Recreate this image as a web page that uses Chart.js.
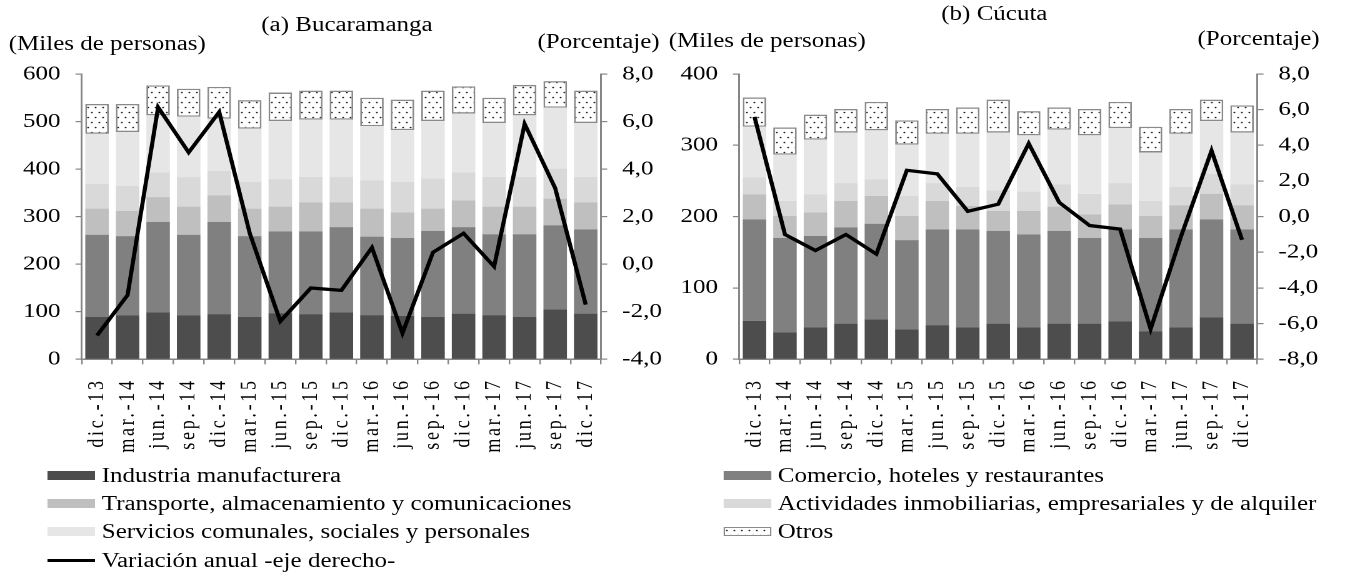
<!DOCTYPE html>
<html>
<head>
<meta charset="utf-8">
<script src="https://cdn.jsdelivr.net/npm/chart.js@4/dist/chart.umd.min.js"></script>
<style>
  html, body { margin: 0; padding: 0; background: #fff; }
  body { width: 1361px; height: 576px; overflow: hidden; position: relative; }
  /* el original está estirado en horizontal, se dibuja angosto y se escala */
  #stage {
    position: absolute; left: 0; top: 0;
    width: 1089px; height: 576px;
    transform: scaleX(1.25); transform-origin: 0 0;
    font-family: "Liberation Serif", "Times New Roman", serif;
    font-size: 20px; color: #000;
  }
  .txt { position: absolute; line-height: 24px; white-space: nowrap; }
  canvas { position: absolute; }
  .leg { position: absolute; display: flex; align-items: center; line-height: 24px; white-space: nowrap; }
  .sw { display: inline-block; margin-right: 5px; box-sizing: border-box; }
</style>
</head>
<body>
<div id="stage">
  <div class="txt" style="left:209px; top:12px;">(a) Bucaramanga</div>
  <div class="txt" style="left:7px; top:31px;">(Miles de personas)</div>
  <div class="txt" style="left:430px; top:29px;">(Porcentaje)</div>
  <div class="txt" style="left:753px; top:1px;">(b) Cúcuta</div>
  <div class="txt" style="left:535px; top:28px;">(Miles de personas)</div>
  <div class="txt" style="left:958px; top:26px;">(Porcentaje)</div>

  <canvas id="chart-a" width="540" height="410" style="left:0px; top:50px;"></canvas>
  <canvas id="chart-b" width="540" height="410" style="left:530px; top:50px;"></canvas>

  <div id="legend"></div>
</div>

<script>
// categorías (trimestres)
const labels = ["dic.-13", "mar.-14", "jun.-14", "sep.-14", "dic.-14", "mar.-15", "jun.-15", "sep.-15", "dic.-15",
  "mar.-16", "jun.-16", "sep.-16", "dic.-16", "mar.-17", "jun.-17", "sep.-17", "dic.-17"];

// (a) Bucaramanga - miles de personas
const bucIndustria = [89, 92, 99, 92, 95, 89, 97, 95, 99, 93, 91, 89, 96, 93, 89, 105, 96];
const bucComercio = [173, 167, 190, 170, 194, 170, 172, 174, 179, 165, 164, 181, 182, 170, 174, 177, 177];
const bucTransporte = [55, 53, 52, 59, 56, 58, 52, 61, 52, 59, 54, 47, 56, 58, 58, 56, 57];
const bucActividades = [52, 53, 52, 62, 51, 56, 58, 54, 53, 59, 64, 63, 59, 63, 63, 63, 54];
const bucServicios = [105, 113, 120, 127, 110, 112, 122, 120, 121, 114, 109, 121, 124, 113, 129, 128, 113];
const bucOtros = [63, 59, 63, 59, 67, 60, 60, 61, 61, 60, 64, 64, 57, 53, 64, 56, 68];
const bucVariacion = [-3.0, -1.3, 6.6, 4.7, 6.4, 1.3, -2.4, -1.0, -1.1, 0.7, -2.9, 0.5, 1.3, -0.1, 5.9, 3.2, -1.7];

// (b) Cúcuta - miles de personas
const cucIndustria = [54, 38, 45, 50, 56, 42, 48, 45, 50, 45, 50, 50, 53, 39, 45, 59, 50];
const cucComercio = [142, 132, 128, 135, 134, 125, 134, 137, 130, 130, 130, 120, 129, 131, 137, 137, 132];
const cucTransporte = [35, 31, 33, 37, 39, 34, 40, 33, 28, 33, 34, 33, 35, 31, 34, 36, 34];
const cucActividades = [24, 21, 25, 25, 23, 28, 25, 27, 29, 27, 31, 29, 30, 21, 26, 28, 29];
const cucServicios = [71, 65, 77, 71, 69, 72, 69, 74, 81, 79, 77, 82, 77, 68, 74, 74, 73];
const cucOtros = [41, 38, 35, 33, 40, 34, 35, 37, 46, 34, 31, 37, 37, 36, 35, 30, 38];
const cucVariacion = [5.6, -1.0, -1.9, -1.0, -2.1, 2.6, 2.4, 0.3, 0.7, 4.1, 0.8, -0.5, -0.7, -6.3, -1.1, 3.7, -1.3];

// nombres de las series
const serieNames = [
  "Industria manufacturera",
  "Comercio, hoteles y restaurantes",
  "Transporte, almacenamiento y comunicaciones",
  "Actividades inmobiliarias, empresariales y de alquiler",
  "Servicios comunales, sociales y personales",
  "Otros"
];
const lineName = "Variación anual -eje derecho-";

const colors = ["#4d4d4d", "#808080", "#bfbfbf", "#d9d9d9", "#e6e6e6"];
const axisColor = "#868686";

Chart.defaults.font.family = "'Liberation Serif', 'Times New Roman', serif";
Chart.defaults.font.size = 20;
Chart.defaults.color = "#000";

// trama de puntos para "Otros"
const tile = document.createElement("canvas");
tile.width = 12;
tile.height = 20;
const tctx = tile.getContext("2d");
tctx.fillStyle = "#fff";
tctx.fillRect(0, 0, 12, 20);
tctx.fillStyle = "#222";
[[3, 5], [9, 15]].forEach(([x, y]) => {
  tctx.beginPath();
  tctx.arc(x, y, 1.6, 0, Math.PI * 2);
  tctx.fill();
});

function makePattern(ctx) {
  const p = ctx.createPattern(tile, "repeat");
  p.setTransform(new DOMMatrix([0.5, 0, 0, 0.5, 0, 0]));
  return p;
}

const fmtPct = v => v.toFixed(1).replace(".", ",");

// etiquetas del eje x con letras más separadas, como en el original
function spaceXLabels(chart) {
  const sc = chart.scales.x;
  const orig = sc.drawLabels.bind(sc);
  sc.drawLabels = function (area) {
    const c = this.ctx;
    c.save();
    c.letterSpacing = "2.7px";
    orig(area);
    c.restore();
  };
  chart.draw();
}

function createChart(id, series, variacion, yMax, y1Min, y1Max, pad) {
  const ctx = document.getElementById(id).getContext("2d");
  const barSets = series.map((data, i) => ({
    type: "bar",
    label: serieNames[i],
    data: data,
    yAxisID: "y",
    order: 1,
    backgroundColor: i < 5 ? colors[i] : makePattern(ctx),
    borderColor: i < 5 ? colors[i] : "#8a8a8a",
    borderWidth: i < 5 ? 0 : 1.4,
    borderSkipped: false,
    categoryPercentage: 1,
    barPercentage: 0.77
  }));

  const gridOpts = { drawOnChartArea: false, drawTicks: true, tickLength: 5, color: axisColor, lineWidth: 1.2 };
  const borderOpts = { color: axisColor, width: 1.5 };

  const chart = new Chart(ctx, {
    data: {
      labels,
      datasets: [
        {
          type: "line",
          label: lineName,
          data: variacion,
          yAxisID: "y1",
          order: 0,
          borderColor: "#000",
          borderWidth: 3.3,
          pointRadius: 0,
          tension: 0,
          fill: false
        },
        ...barSets
      ]
    },
    options: {
      responsive: false,
      animation: false,
      devicePixelRatio: 2,
      layout: { padding: { top: pad.top, left: 0, right: 0, bottom: 0 } },
      plugins: { legend: { display: false }, tooltip: { enabled: false } },
      scales: {
        x: {
          stacked: true,
          grid: { ...gridOpts, offset: true },
          border: borderOpts,
          ticks: { autoSkip: false, minRotation: 90, maxRotation: 90, padding: 14, font: { size: 18 } },
          afterFit: s => { s.height = 100.7; }
        },
        y: {
          stacked: true,
          position: "left",
          min: 0,
          max: yMax,
          grid: gridOpts,
          border: borderOpts,
          ticks: { stepSize: 100, padding: 12 },
          afterFit: s => { s.width = pad.left; }
        },
        y1: {
          position: "right",
          min: y1Min,
          max: y1Max,
          grid: gridOpts,
          border: borderOpts,
          ticks: { stepSize: 2, padding: 12, callback: v => fmtPct(v) },
          afterFit: s => { s.width = pad.right; }
        }
      }
    }
  });
  spaceXLabels(chart);
  return chart;
}

createChart("chart-a",
  [bucIndustria, bucComercio, bucTransporte, bucActividades, bucServicios, bucOtros],
  bucVariacion, 600, -4, 8, { top: 22.7, left: 65.4, right: 59.2 });

createChart("chart-b",
  [cucIndustria, cucComercio, cucTransporte, cucActividades, cucServicios, cucOtros],
  cucVariacion, 400, -8, 8, { top: 18.3, left: 61.4, right: 64.2 });

// leyenda común
const legend = document.getElementById("legend");
const tileUrl = tile.toDataURL();
const legendItems = [
  { name: serieNames[0], kind: 0, left: 38.4, y: 475 },
  { name: serieNames[2], kind: 2, left: 38.4, y: 503 },
  { name: serieNames[4], kind: 4, left: 38.4, y: 531 },
  { name: lineName, kind: "line", left: 38.4, y: 560 },
  { name: serieNames[1], kind: 1, left: 579.2, y: 475 },
  { name: serieNames[3], kind: 3, left: 579.2, y: 503 },
  { name: serieNames[5], kind: 5, left: 579.2, y: 531 }
];
legendItems.forEach(item => {
  const row = document.createElement("div");
  row.className = "leg";
  row.style.left = item.left + "px";
  row.style.top = (item.y - 12) + "px";
  const sw = document.createElement("span");
  sw.className = "sw";
  sw.style.width = "38px";
  if (item.kind === "line") {
    sw.style.height = "3px";
    sw.style.background = "#000";
  } else if (item.kind === 5) {
    sw.style.height = "9px";
    sw.style.border = "1px solid #8a8a8a";
    sw.style.backgroundImage = `url(${tileUrl})`;
    sw.style.backgroundSize = "6px 10px";
  } else {
    sw.style.height = "9px";
    sw.style.background = colors[item.kind];
  }
  const t = document.createElement("span");
  t.textContent = item.name;
  row.appendChild(sw);
  row.appendChild(t);
  legend.appendChild(row);
});
</script>
</body>
</html>
